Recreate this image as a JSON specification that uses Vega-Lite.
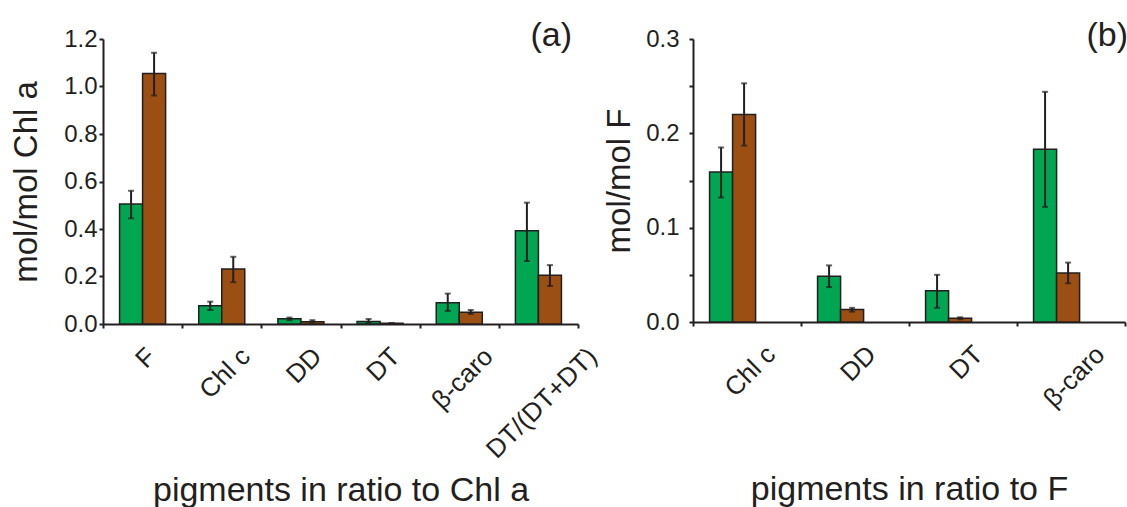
{
  "$schema": "https://vega.github.io/schema/vega-lite/v6.json",
  "background": "white",
  "padding": {"left": 9, "top": 19, "right": 0, "bottom": 0},
  "config": {
    "font": "Liberation Sans",
    "view": {"stroke": null},
    "concat": {"spacing": 0},
    "axis": {
      "domainColor": "#231f20", "domainWidth": 2,
      "tickColor": "#231f20", "tickWidth": 2,
      "labelColor": "#231f20", "titleColor": "#231f20",
      "labelFont": "Liberation Sans", "titleFont": "Liberation Sans",
      "titleFontWeight": "normal", "grid": false
    }
  },
  "datasets": {
    "a": [
      {"pigment": "F", "group": "g", "value": 0.505, "lo": 0.445, "hi": 0.561},
      {"pigment": "F", "group": "b", "value": 1.055, "lo": 0.962, "hi": 1.142},
      {"pigment": "Chl c", "group": "g", "value": 0.077, "lo": 0.059, "hi": 0.094},
      {"pigment": "Chl c", "group": "b", "value": 0.232, "lo": 0.176, "hi": 0.283},
      {"pigment": "DD", "group": "g", "value": 0.022, "lo": 0.016, "hi": 0.027},
      {"pigment": "DD", "group": "b", "value": 0.010, "lo": 0.006, "hi": 0.016},
      {"pigment": "DT", "group": "g", "value": 0.011, "lo": 0.004, "hi": 0.021},
      {"pigment": "DT", "group": "b", "value": 0.003, "lo": 0.002, "hi": 0.004},
      {"pigment": "β-caro", "group": "g", "value": 0.090, "lo": 0.055, "hi": 0.128},
      {"pigment": "β-caro", "group": "b", "value": 0.050, "lo": 0.042, "hi": 0.059},
      {"pigment": "DT/(DT+DT)", "group": "g", "value": 0.393, "lo": 0.265, "hi": 0.511},
      {"pigment": "DT/(DT+DT)", "group": "b", "value": 0.205, "lo": 0.160, "hi": 0.248}
    ],
    "b": [
      {"pigment": "Chl c", "group": "g", "value": 0.159, "lo": 0.132, "hi": 0.185},
      {"pigment": "Chl c", "group": "b", "value": 0.220, "lo": 0.187, "hi": 0.253},
      {"pigment": "DD", "group": "g", "value": 0.0485, "lo": 0.037, "hi": 0.060},
      {"pigment": "DD", "group": "b", "value": 0.0132, "lo": 0.011, "hi": 0.015},
      {"pigment": "DT", "group": "g", "value": 0.033, "lo": 0.015, "hi": 0.050},
      {"pigment": "DT", "group": "b", "value": 0.004, "lo": 0.003, "hi": 0.005},
      {"pigment": "β-caro", "group": "g", "value": 0.183, "lo": 0.122, "hi": 0.244},
      {"pigment": "β-caro", "group": "b", "value": 0.052, "lo": 0.041, "hi": 0.063}
    ]
  },
  "hconcat": [
    {
      "width": 475,
      "height": 285,
      "data": {"name": "a"},
      "title": {"text": "(a)", "anchor": "end", "frame": "group", "orient": "top", "offset": -60, "dx": -6, "fontSize": 34, "fontWeight": "normal", "color": "#231f20", "baseline": "bottom"},
      "encoding": {
        "x": {
          "field": "pigment", "type": "nominal",
          "sort": ["F", "Chl c", "DD", "DT", "β-caro", "DT/(DT+DT)"],
          "scale": {"paddingInner": 0, "paddingOuter": 0},
          "axis": {
            "title": "pigments in ratio to Chl a", "titleFontSize": 34, "titleY": 176, "titleBaseline": "alphabetic",
            "labelAngle": -45, "labelAlign": "right", "labelBaseline": "middle", "labelFontSize": 26, "labelPadding": 24,
            "tickBand": "extent", "tickSize": 4, "labelOverlap": false, "labelBound": false,
            "labelOffset": {"condition": [
              {"test": "datum.label == 'F'", "value": 8.6},
              {"test": "datum.label == 'Chl c'", "value": 23.9},
              {"test": "datum.label == 'DD'", "value": 16.3},
              {"test": "datum.label == 'DT'", "value": 15.3},
              {"test": "datum.label == 'β-caro'", "value": 29.2},
              {"test": "datum.label == 'DT/(DT+DT)'", "value": 53.8}
            ], "value": 0}
          }
        },
        "xOffset": {"field": "group", "type": "nominal", "sort": ["g", "b"], "scale": {"paddingInner": 0, "paddingOuter": 0.72}}
      },
      "layer": [
        {
          "mark": {"type": "bar", "stroke": "#231f20", "strokeWidth": 1.5},
          "encoding": {
            "y": {"field": "value", "type": "quantitative", "scale": {"domain": [0, 1.2], "nice": false},
              "axis": {"title": "mol/mol Chl a", "titleFontSize": 33, "titleX": -67, "titleBaseline": "alphabetic",
                "values": [0, 0.2, 0.4, 0.6, 0.8, 1.0, 1.2], "format": ".1f", "labelFontSize": 24, "tickSize": 4, "labelPadding": 2}},
            "color": {"field": "group", "type": "nominal", "scale": {"domain": ["g", "b"], "range": ["#00a651", "#9c4f12"]}, "legend": null}
          }
        },
        {
          "mark": {"type": "rule", "color": "#231f20", "strokeWidth": 2},
          "encoding": {"y": {"field": "lo", "type": "quantitative"}, "y2": {"field": "hi"}}
        },
        {
          "mark": {"type": "tick", "color": "#231f20", "size": 6, "thickness": 2},
          "encoding": {"y": {"field": "lo", "type": "quantitative"}}
        },
        {
          "mark": {"type": "tick", "color": "#231f20", "size": 6, "thickness": 2},
          "encoding": {"y": {"field": "hi", "type": "quantitative"}}
        }
      ]
    },
    {
      "width": 432,
      "height": 283,
      "data": {"name": "b"},
      "title": {"text": "(b)", "anchor": "end", "frame": "group", "orient": "top", "offset": -60, "dx": 3, "fontSize": 34, "fontWeight": "normal", "color": "#231f20", "baseline": "bottom"},
      "encoding": {
        "x": {
          "field": "pigment", "type": "nominal",
          "sort": ["Chl c", "DD", "DT", "β-caro"],
          "scale": {"paddingInner": 0, "paddingOuter": 0},
          "axis": {
            "title": "pigments in ratio to F", "titleFontSize": 34, "titleY": 177, "titleBaseline": "alphabetic",
            "labelAngle": -45, "labelAlign": "right", "labelBaseline": "middle", "labelFontSize": 26, "labelPadding": 24,
            "tickBand": "extent", "tickSize": 4, "labelOverlap": false, "labelBound": false,
            "labelOffset": {"condition": [
              {"test": "datum.label == 'Chl c'", "value": 23.9},
              {"test": "datum.label == 'DD'", "value": 16.3},
              {"test": "datum.label == 'DT'", "value": 15.3},
              {"test": "datum.label == 'β-caro'", "value": 29.2}
            ], "value": 0}
          }
        },
        "xOffset": {"field": "group", "type": "nominal", "sort": ["g", "b"], "scale": {"paddingInner": 0, "paddingOuter": 0.74}}
      },
      "layer": [
        {
          "mark": {"type": "bar", "stroke": "#231f20", "strokeWidth": 1.5},
          "encoding": {
            "y": {"field": "value", "type": "quantitative", "scale": {"domain": [0, 0.3], "nice": false},
              "axis": {"title": "mol/mol F", "titleFontSize": 33, "titleX": -64, "titleBaseline": "alphabetic",
                "values": [0, 0.05, 0.1, 0.15, 0.2, 0.25, 0.3], "labelExpr": "round(datum.value*20) % 2 == 0 ? format(datum.value, '.1f') : ''",
                "labelFontSize": 24, "tickSize": 4, "labelPadding": 10}},
            "color": {"field": "group", "type": "nominal", "scale": {"domain": ["g", "b"], "range": ["#00a651", "#9c4f12"]}, "legend": null}
          }
        },
        {
          "mark": {"type": "rule", "color": "#231f20", "strokeWidth": 2},
          "encoding": {"y": {"field": "lo", "type": "quantitative"}, "y2": {"field": "hi"}}
        },
        {
          "mark": {"type": "tick", "color": "#231f20", "size": 6, "thickness": 2},
          "encoding": {"y": {"field": "lo", "type": "quantitative"}}
        },
        {
          "mark": {"type": "tick", "color": "#231f20", "size": 6, "thickness": 2},
          "encoding": {"y": {"field": "hi", "type": "quantitative"}}
        }
      ]
    }
  ],
  "resolve": {"scale": {"y": "independent", "color": "shared"}}
}
